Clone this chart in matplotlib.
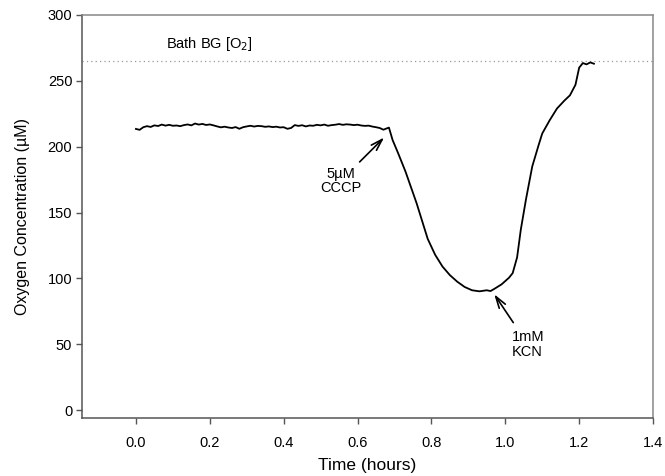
import matplotlib.pyplot as plt

plt.rcParams['font.family'] = ['Liberation Sans', 'DejaVu Sans']

# baseline trace (hours, µM)
t_flat = [0.00, 0.01, 0.02, 0.03, 0.04, 0.05, 0.06, 0.07, 0.08, 0.09,
          0.10, 0.11, 0.12, 0.13, 0.14, 0.15, 0.16, 0.17, 0.18, 0.19,
          0.20, 0.21, 0.22, 0.23, 0.24, 0.25, 0.26, 0.27, 0.28, 0.29,
          0.30, 0.31, 0.32, 0.33, 0.34, 0.35, 0.36, 0.37, 0.38, 0.39,
          0.40, 0.41, 0.42, 0.43, 0.44, 0.45, 0.46, 0.47, 0.48, 0.49,
          0.50, 0.51, 0.52, 0.53, 0.54, 0.55, 0.56, 0.57, 0.58, 0.59,
          0.60, 0.61, 0.62, 0.63, 0.64, 0.65, 0.66, 0.67, 0.68]
o2_flat = [213.5, 212.8, 214.8, 215.6, 215.0, 216.2, 215.7, 216.8, 216.0, 216.6,
           215.9, 216.1, 215.6, 216.4, 216.9, 216.2, 217.6, 216.8, 217.3, 216.5,
           216.9, 216.2, 215.4, 214.7, 215.2, 214.6, 214.2, 214.9, 213.6, 214.8,
           215.4, 215.9, 215.3, 215.8, 215.6, 215.1, 215.4, 214.9, 215.2, 214.6,
           214.8, 213.6, 214.2, 216.4, 215.8, 216.3, 215.4, 216.1, 215.9, 216.6,
           216.2, 216.8, 215.9, 216.4, 216.7, 217.2, 216.6, 217.0, 216.8, 216.4,
           216.7, 216.1, 215.8, 216.0, 215.3, 214.8, 214.2, 212.9, 214.0]

# CCCP response, minimum and recovery after KCN
t_resp = [0.685, 0.695, 0.71, 0.73, 0.76, 0.79, 0.81, 0.83, 0.85, 0.87,
          0.89, 0.91, 0.93, 0.95, 0.96, 0.97, 0.99, 1.01, 1.02, 1.032,
          1.042, 1.056, 1.073, 1.09, 1.10, 1.12, 1.14, 1.16, 1.175, 1.19,
          1.20, 1.21, 1.22, 1.23, 1.24]
o2_resp = [214.5, 205, 195, 181, 157, 130, 118, 109, 102.5, 97.5,
           93.5, 91, 90.2, 91, 90.4, 92, 95.5, 100.5, 104, 116,
           137, 160, 185, 201, 210, 220, 229, 235, 239, 247,
           260, 263.5, 262.5, 264, 263]

bath_o2 = 265

t = t_flat + t_resp
o2 = o2_flat + o2_resp

fig = plt.figure(figsize=(6.65, 4.76), dpi=100)
ax = fig.add_axes([0.1233, 0.1218, 0.8587, 0.8467])

ax.axhline(bath_o2, color='#999999', lw=0.9, ls=(0, (1, 2.5)))
ax.plot(t, o2, color='black', lw=1.3)

ax.text(0.082, 278, 'Bath BG [O$_2$]', fontsize=10.5, va='center', ha='left')

arrow = dict(arrowstyle='->,head_length=0.8,head_width=0.25',
             color='black', lw=1.2, shrinkB=0)
ax.annotate('5\u00b5M\nCCCP', xy=(0.672, 207), xytext=(0.554, 174),
            ha='center', va='center', fontsize=10.5, linespacing=1.05,
            arrowprops=dict(arrow, shrinkA=2))
ax.annotate('1mM\nKCN', xy=(0.970, 88), xytext=(1.017, 50),
            ha='left', va='center', fontsize=10.5, linespacing=1.05,
            arrowprops=dict(arrow, shrinkA=4))

ax.set_xlim(-0.146, 1.4)
ax.set_ylim(-6, 300)
ax.set_xticks([0.0, 0.2, 0.4, 0.6, 0.8, 1.0, 1.2, 1.4])
ax.set_xticklabels(['0.0', '0.2', '0.4', '0.6', '0.8', '1.0', '1.2', '1.4'])
ax.set_yticks([0, 50, 100, 150, 200, 250, 300])

for s in ax.spines.values():
    s.set_color('#555555')
    s.set_linewidth(1.1)
ax.spines['top'].set_color('#888888')
ax.spines['right'].set_color('#888888')

ax.tick_params(axis='both', labelsize=10.5, color='#555555', length=4, width=1.0)
ax.tick_params(axis='x', pad=9)
ax.tick_params(axis='y', pad=3)

ax.set_xlabel('Time (hours)', fontsize=12.5, labelpad=6)
ax.set_ylabel('Oxygen Concentration (\u00b5M)', fontsize=11.5, labelpad=13)

fig.savefig('out.png', dpi=100)
